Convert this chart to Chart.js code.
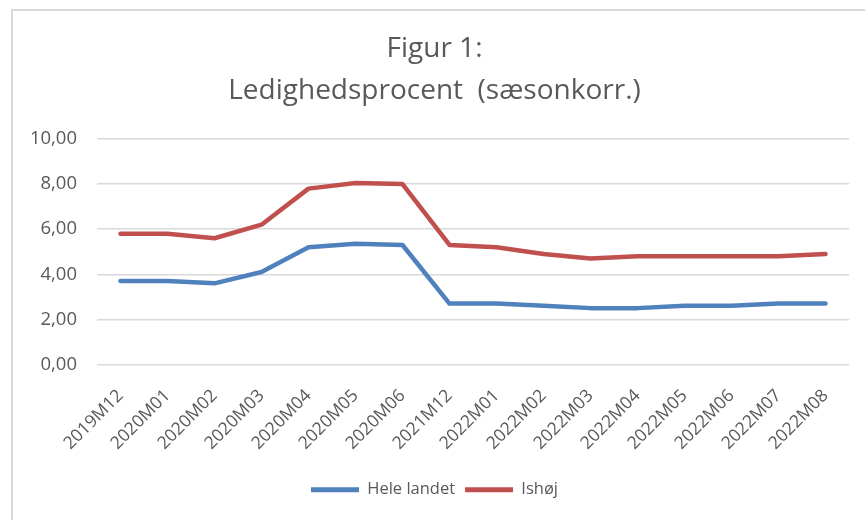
<!DOCTYPE html>
<html>
<head>
<meta charset="utf-8">
<script src="https://cdn.jsdelivr.net/npm/chart.js@4"></script>
<style>
html,body{margin:0;padding:0;background:#fff;}
#wrap{width:865px;height:520px;position:relative;}
</style>
</head>
<body>
<div id="wrap"><canvas id="c" width="865" height="520"></canvas></div>
<script>
const categories = ["2019M12","2020M01","2020M02","2020M03","2020M04","2020M05","2020M06","2021M12","2022M01","2022M02","2022M03","2022M04","2022M05","2022M06","2022M07","2022M08"];
const heleLandet = [3.7,3.7,3.6,4.1,5.2,5.35,5.3,2.7,2.7,2.6,2.5,2.5,2.6,2.6,2.7,2.7];
const ishoej = [5.8,5.8,5.6,6.2,7.8,8.05,8.0,5.3,5.2,4.9,4.7,4.8,4.8,4.8,4.8,4.9];
const yTicks = [0,2,4,6,8,10];
const titleLines = ["Figur 1:","Ledighedsprocent  (sæsonkorr.)"];
const seriesNames = ["Hele landet","Ishøj"];

const FONT = "'Open Sans', 'Liberation Sans', sans-serif";
const TXT = "#595959";

const framePlugin = {
  id: 'frame',
  beforeDraw(chart) {
    const ctx = chart.ctx;
    ctx.save();
    ctx.fillStyle = '#fff';
    ctx.fillRect(0,0,chart.width,chart.height);
    ctx.strokeStyle = '#d9d9d9';
    ctx.lineWidth = 2;
    ctx.beginPath();
    ctx.moveTo(12, chart.height);
    ctx.lineTo(12, 10);
    ctx.lineTo(chart.width, 10);
    ctx.stroke();
    ctx.restore();
  }
};

new Chart(document.getElementById('c'), {
  type: 'line',
  data: {
    labels: categories,
    datasets: [
      {label: seriesNames[0], data: heleLandet, borderColor: '#4f81bd', backgroundColor: '#4f81bd', borderWidth: 4.5, pointRadius: 0, tension: 0, borderCapStyle: 'round', borderJoinStyle: 'round'},
      {label: seriesNames[1], data: ishoej, borderColor: '#c0504d', backgroundColor: '#c0504d', borderWidth: 4.5, pointRadius: 0, tension: 0, borderCapStyle: 'round', borderJoinStyle: 'round'}
    ]
  },
  options: {
    responsive: false,
    animation: false,
    layout: {padding: {left: 20, right: 16, top: 28, bottom: 12}},
    plugins: {
      title: {
        display: true,
        text: titleLines,
        color: TXT,
        font: {family: FONT, size: 28, weight: 'normal', lineHeight: 1.5},
        padding: {top: 0, bottom: 27}
      },
      legend: {
        position: 'bottom',
        labels: {
          color: TXT,
          font: {family: FONT, size: 16.5},
          boxWidth: 48,
          boxHeight: 5,
          padding: 10,
          generateLabels(chart) {
            return chart.data.datasets.map((d, i) => ({
              text: d.label, fillStyle: d.borderColor, strokeStyle: d.borderColor,
              lineWidth: 0, datasetIndex: i, fontColor: TXT
            }));
          }
        }
      },
      tooltip: {enabled: false}
    },
    scales: {
      x: {
        offset: true,
        grid: {display: false},
        border: {display: false},
        ticks: {
          color: TXT, font: {family: FONT, size: 17.5},
          maxRotation: 45, minRotation: 45, autoSkip: false, padding: 13
        },
        afterFit(scale) { scale.height = 107; }
      },
      y: {
        min: 0, max: 10,
        afterBuildTicks(scale) { scale.ticks = yTicks.map(v => ({value: v})); },
        grid: {color: '#d9d9d9', lineWidth: 1.5, drawTicks: false},
        border: {display: false},
        ticks: {
          color: TXT, font: {family: FONT, size: 18.5}, padding: 20,
          callback: v => v.toFixed(2).replace('.', ',')
        },
        afterFit(scale) { scale.width = 77; }
      }
    }
  },
  plugins: [framePlugin]
});
</script>
</body>
</html>
